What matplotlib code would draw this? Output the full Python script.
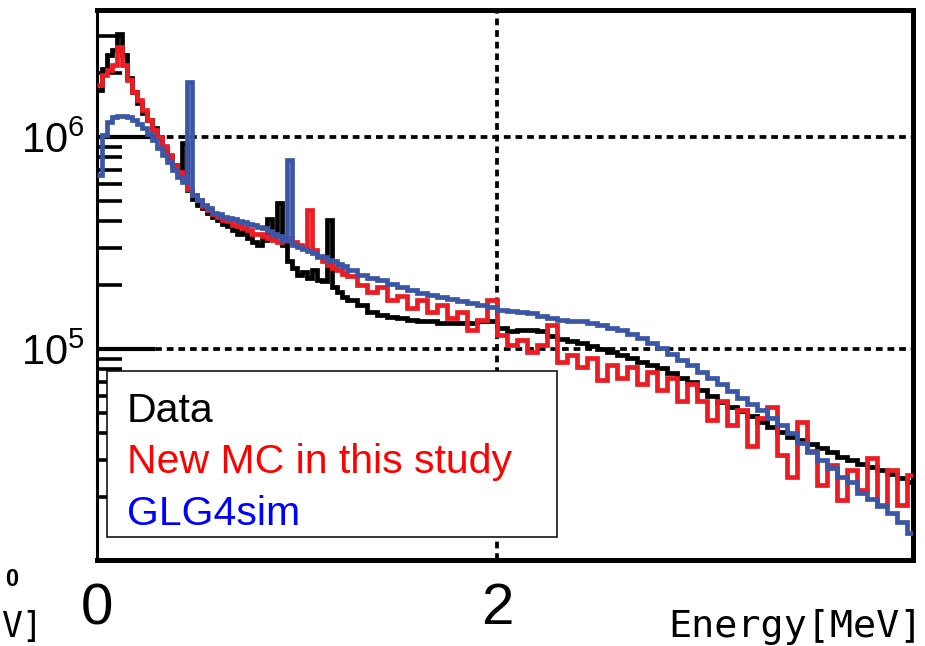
import numpy as np
import matplotlib
matplotlib.use("Agg")
import matplotlib.pyplot as plt
from matplotlib.ticker import LogLocator, NullFormatter, FixedLocator
from matplotlib.patches import Rectangle

plt.rcParams['font.family'] = ['Liberation Sans', 'DejaVu Sans']
plt.rcParams['mathtext.fontset'] = 'custom'
plt.rcParams['mathtext.rm'] = 'Liberation Sans'
plt.rcParams['mathtext.it'] = 'Liberation Sans:italic'
plt.rcParams['mathtext.bf'] = 'Liberation Sans:bold'

# ---------------- binning ----------------
# 0.025 MeV bins up to 1.25 MeV, 0.05 MeV bins from 1.25 to 4.1 MeV
fine_width = 0.025
n_fine = 50
coarse_width = 0.05
n_coarse = 57

# ---------------- data (counts per bin) ----------------
data_counts = [
    # fine part (0 - 1.25 MeV)
    1.67e6, 2.1e6, 2.44e6, 2.57e6, 3.05e6, 2.44e6, 1.9e6, 1.63e6, 1.45e6, 1.3e6,
    1.2e6, 1.1e6, 1.0e6, 8.9e5, 8.0e5, 7.4e5, 6.85e5, 9.4e5, 5.6e5, 5.1e5,
    4.8e5, 4.6e5, 4.4e5, 4.2e5, 4.06e5, 3.9e5, 3.8e5, 3.64e5, 3.5e5, 3.55e5,
    3.35e5, 3.2e5, 3.1e5, 3.27e5, 4.1e5, 3.45e5, 4.9e5, 3.1e5, 2.6e5, 2.4e5,
    2.23e5, 2.3e5, 2.17e5, 2.36e5, 2.12e5, 2.1e5, 4.06e5, 1.95e5, 1.86e5, 1.75e5,
    # coarse part (1.25 - 4.1 MeV)
    1.7e5, 1.61e5, 1.5e5, 1.45e5, 1.42e5,
    1.4e5, 1.37e5, 1.36e5, 1.35e5, 1.33e5, 1.33e5, 1.32e5, 1.32e5, 1.35e5, 1.36e5,
    1.26e5, 1.22e5, 1.23e5, 1.23e5, 1.22e5, 1.15e5, 1.11e5, 1.09e5, 1.07e5, 1.03e5,
    1.0e5, 9.7e4, 9.4e4, 9.1e4, 8.7e4, 8.4e4, 8.1e4, 7.7e4, 7.3e4, 7.0e4,
    6.4e4, 6.0e4, 5.6e4, 5.3e4, 5.1e4, 4.85e4, 4.5e4, 4.3e4, 4.05e4, 3.85e4,
    3.7e4, 3.55e4, 3.4e4, 3.25e4, 3.1e4, 3.0e4, 2.87e4, 2.78e4, 2.69e4, 2.57e4,
    2.47e4, 2.35e4,
]

new_mc_counts = [
    # fine part
    1.76e6, 1.96e6, 2.07e6, 2.19e6, 2.65e6, 2.19e6, 1.86e6, 1.63e6, 1.5e6, 1.34e6,
    1.2e6, 1.08e6, 1.0e6, 9.1e5, 8.2e5, 7.4e5, 6.85e5, 6.3e5, 5.7e5, 5.3e5,
    5.05e5, 4.7e5, 4.5e5, 4.35e5, 4.2e5, 4.06e5, 4.0e5, 3.85e5, 3.8e5, 3.7e5,
    3.64e5, 3.5e5, 3.5e5, 3.4e5, 3.35e5, 3.27e5, 3.2e5, 3.27e5, 3.35e5, 3.2e5,
    3.1e5, 3.0e5, 4.5e5, 2.93e5, 2.7e5, 2.6e5, 2.5e5, 2.4e5, 2.36e5, 2.25e5,
    # coarse part
    2.2e5, 2.0e5, 1.86e5, 1.95e5, 1.7e5,
    1.78e5, 1.56e5, 1.7e5, 1.5e5, 1.61e5, 1.4e5, 1.5e5, 1.23e5, 1.37e5, 1.7e5,
    1.16e5, 1.045e5, 1.10e5, 9.7e4, 1.045e5, 1.3e5, 8.7e4, 9.4e4, 8.2e4, 9.1e4,
    7.1e4, 8.4e4, 7.3e4, 8.2e4, 6.8e4, 7.8e4, 6.4e4, 7.3e4, 5.7e4, 6.8e4,
    5.7e4, 4.6e4, 5.7e4, 4.4e4, 5.15e4, 3.5e4, 4.7e4, 5.3e4, 3.16e4, 2.5e4,
    4.5e4, 3.3e4, 2.28e4, 2.84e4, 1.94e4, 2.69e4, 2.16e4, 3.05e4, 1.84e4, 2.69e4,
    1.84e4, 2.55e4,
]

glg4sim_counts = [
    # fine part
    6.6e5, 1.02e6, 1.18e6, 1.24e6, 1.26e6, 1.26e6, 1.24e6, 1.2e6, 1.15e6, 1.1e6,
    1.03e6, 9.7e5, 8.9e5, 8.2e5, 7.6e5, 7.0e5, 6.5e5, 6.1e5, 1.82e6, 5.3e5,
    5.05e5, 4.8e5, 4.6e5, 4.4e5, 4.35e5, 4.2e5, 4.15e5, 4.1e5, 4.0e5, 3.97e5,
    3.9e5, 3.85e5, 3.75e5, 3.7e5, 3.6e5, 3.5e5, 3.4e5, 3.27e5, 7.8e5, 3.1e5,
    3.03e5, 2.97e5, 2.9e5, 2.85e5, 2.75e5, 2.7e5, 2.63e5, 2.6e5, 2.52e5, 2.47e5,
    # coarse part
    2.36e5, 2.23e5, 2.17e5, 2.12e5, 2.03e5,
    1.95e5, 1.9e5, 1.84e5, 1.8e5, 1.76e5, 1.72e5, 1.69e5, 1.65e5, 1.61e5, 1.58e5,
    1.53e5, 1.51e5, 1.5e5, 1.47e5, 1.43e5, 1.4e5, 1.37e5, 1.36e5, 1.35e5, 1.32e5,
    1.29e5, 1.26e5, 1.23e5, 1.18e5, 1.12e5, 1.07e5, 1.01e5, 9.5e4, 8.9e4, 8.4e4,
    7.8e4, 7.3e4, 6.8e4, 6.3e4, 5.9e4, 5.5e4, 5.15e4, 4.7e4, 4.4e4, 4.0e4,
    3.6e4, 3.25e4, 3.0e4, 2.75e4, 2.5e4, 2.35e4, 2.1e4, 1.96e4, 1.82e4, 1.68e4,
    1.53e4, 1.36e4,
]

series_labels = ["Data", "New MC in this study", "GLG4sim"]
line_colors = ["#000000", "#EC1C24", "#3B56A6"]
text_colors = ["#000000", "#FF0000", "#0000FF"]
x_tick_values = [0, 2]
x_tick_labels = ["0", "2"]
y_tick_values = [1e5, 1e6]
y_tick_labels = [r"$\mathregular{10^{5}}$", r"$\mathregular{10^{6}}$"]
x_label = "Energy[MeV]"

edges = np.concatenate([np.arange(n_fine) * fine_width,
                        n_fine * fine_width + np.arange(n_coarse + 1) * coarse_width])

# ---------------- figure ----------------
W, H = 925, 646
fig = plt.figure(figsize=(W / 100, H / 100), dpi=100)
ax = fig.add_axes([97 / W, 1 - 560 / H, (913 - 97) / W, 550 / H])

for vals, col in zip([data_counts, new_mc_counts, glg4sim_counts], line_colors):
    ax.stairs(vals, edges, baseline=None, color=col, linewidth=3.4, zorder=3)

ax.set_yscale('log')
ax.set_xlim(0, 4.08)
ax.set_ylim(1.01e4, 3.97e6)

# ticks
ax.xaxis.set_major_locator(FixedLocator(x_tick_values))
ax.set_xticklabels(x_tick_labels, fontsize=42)
ax.tick_params(axis='x', which='both', length=0, pad=16)
ax.xaxis.set_minor_locator(FixedLocator([]))

ax.yaxis.set_major_locator(FixedLocator(y_tick_values))
ax.set_yticklabels(y_tick_labels, fontsize=30)
ax.yaxis.set_minor_locator(LogLocator(base=10, subs=np.arange(2, 10)))
ax.yaxis.set_minor_formatter(NullFormatter())
ax.tick_params(axis='y', which='major', direction='in', length=42, width=3.0, pad=8.6)
ax.tick_params(axis='y', which='minor', direction='in', length=18, width=2.6)

# grid
ax.set_axisbelow(True)
ax.grid(True, which='major', axis='both', color='black',
        linestyle=(0, (1.8, 1.3)), linewidth=2.7)

for side in ['top', 'right', 'bottom']:
    ax.spines[side].set_linewidth(3.6)
ax.spines['left'].set_linewidth(2.2)

# legend box
rect = Rectangle((107 / W, 1 - 537 / H), 450 / W, 166 / H, transform=fig.transFigure,
                 facecolor='white', edgecolor='black', linewidth=1.1, zorder=10)
fig.add_artist(rect)
baselines = [422, 473, 525]
for lab, col, b in zip(series_labels, text_colors, baselines):
    fig.text(127 / W, 1 - b / H, lab, color=col, fontsize=29.5,
             va='baseline', ha='left', zorder=11)

# axis label
fig.text(923 / W, 1 - 637 / H, x_label, family=['DejaVu Sans Mono'], fontsize=27.7,
         ha='right', va='baseline')

# fragments of a neighbouring panel visible at the left edge
fig.text(1 / W, 1 - 637 / H, "V]", family=['DejaVu Sans Mono'], fontsize=25,
         ha='left', va='baseline')
fig.text(18 / W, 1 - 586 / H, "0", fontweight='bold', fontsize=17,
         ha='right', va='baseline')

fig.savefig("out.png", dpi=100)
